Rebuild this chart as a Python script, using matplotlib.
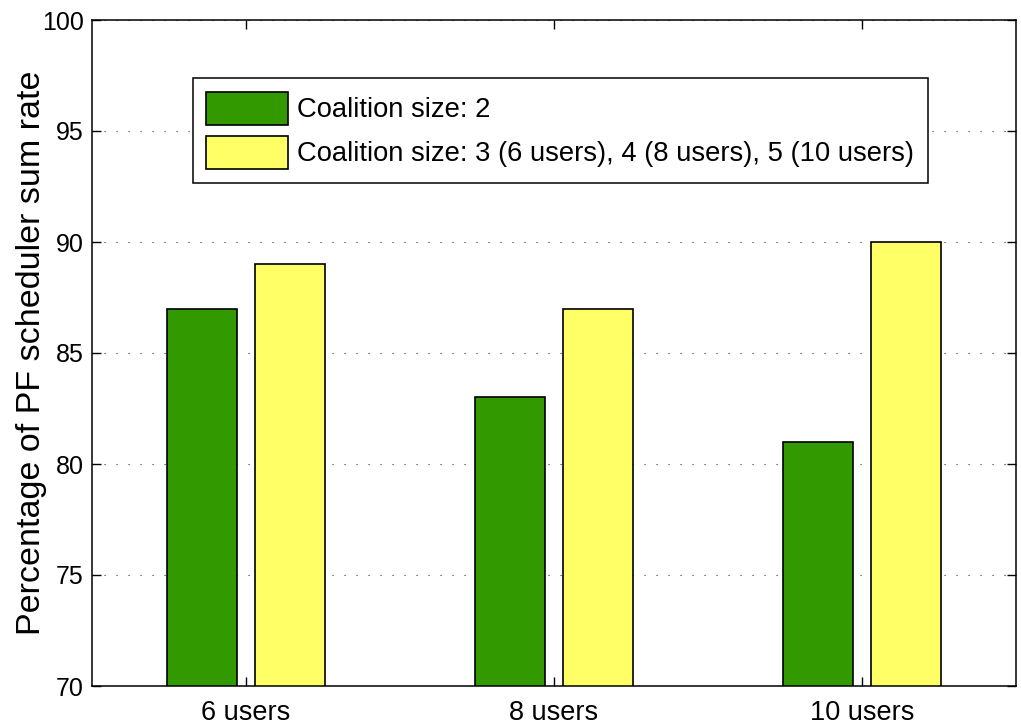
import matplotlib
matplotlib.use("Agg")
import matplotlib.pyplot as plt
import numpy as np

plt.rcParams['font.family'] = ['Liberation Sans', 'DejaVu Sans']

categories = ["6 users", "8 users", "10 users"]
coalition_2 = [87, 83, 81]
coalition_large = [89, 87, 90]
labels = ["Coalition size: 2",
          "Coalition size: 3 (6 users), 4 (8 users), 5 (10 users)"]

fig = plt.figure(figsize=(10.21, 7.24), dpi=100)
ax = fig.add_axes([92/1021, 1 - 686/724, 924/1021, 666/724])

x = np.arange(1, len(categories) + 1)
off = 0.143
w = 0.228
ax.bar(x - off, coalition_2, w, color="#339900", edgecolor="black",
       linewidth=1.2, label=labels[0], zorder=3)
ax.bar(x + off, coalition_large, w, color="#FFFF66", edgecolor="black",
       linewidth=1.2, label=labels[1], zorder=3)

ax.set_xlim(0.5, 3.5)
ax.set_ylim(70, 100)
ax.set_xticks(x)
ax.set_xticklabels(categories)
ax.set_yticks([70, 75, 80, 85, 90, 95, 100])
ax.tick_params(direction="in", length=6.5, width=1, top=True, right=True)
ax.tick_params(axis="y", labelsize=18, pad=6)
ax.tick_params(axis="x", labelsize=19.5, pad=10)
ax.yaxis.grid(True, color="#333333", linestyle=(0, (1, 9.8)), linewidth=0.8, zorder=1)
ax.set_axisbelow(True)
for s in ax.spines.values():
    s.set_linewidth(1.1)
    s.set_zorder(4)
ax.set_ylabel("Percentage of PF scheduler sum rate", fontsize=24.5, labelpad=-4)

leg = ax.legend(loc="upper left", bbox_to_anchor=(0.109, 0.913), fontsize=19.7,
                frameon=True, fancybox=False, edgecolor="black", framealpha=1,
                handlelength=3.0, handleheight=1.49, borderaxespad=0,
                borderpad=0.5, labelspacing=0.4, handletextpad=0.32)
leg.get_frame().set_linewidth(1.1)

fig.savefig("out.png", dpi=100)
